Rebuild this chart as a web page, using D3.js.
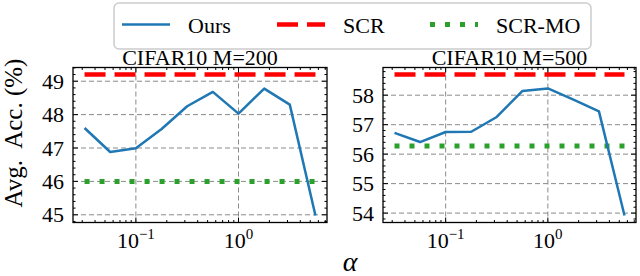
<!DOCTYPE html>
<html>
<head>
  <meta charset="UTF-8">
  <style>
    body { margin: 0; background: #fff; }
    svg { display: block; font-family: "Liberation Serif", "Times New Roman", serif; }
  </style>
</head>
<body>
<svg></svg>
<script src="https://d3js.org/d3.v7.min.js"></script>

<script>

let width = 640, height = 276;

let svg = d3.select("svg")
    .attr("width", width)
    .attr("height", height)
    .attr("viewBox", "0 0 " + width + " " + height);

// data
const alpha = [0.0316, 0.0562, 0.1, 0.178, 0.316, 0.562, 1, 1.78, 3.16, 5.62];
const ours200 = [47.6, 46.88, 46.99, 47.57, 48.25, 48.68, 48.03, 48.78, 48.3, 44.98];
const ours500 = [56.72, 56.41, 56.75, 56.76, 57.26, 58.14, 58.23, 57.85, 57.45, 53.92];
const scr = [49.2, 58.7];
const scrMo = [46.0, 56.28];
const titles = ["CIFAR10 M=200", "CIFAR10 M=500"];
const yTicks200 = [45, 46, 47, 48, 49];
const yTicks500 = [54, 55, 56, 57, 58];
const xTicks = [0.1, 1];
const legendLabels = ["Ours", "SCR", "SCR-MO"];

const blue = "#1f77b4", red = "#ff0000", green = "#2ca02c";
const plotTop = 67.5, plotBottom = 222.5;

let panels = [
  {x0: 73, x1: 327, ours: ours200, scr: scr[0], mo: scrMo[0], yTicks: yTicks200, title: titles[0]},
  {x0: 383, x1: 636, ours: ours500, scr: scr[1], mo: scrMo[1], yTicks: yTicks500, title: titles[1]}
];

panels.forEach(p => {
  let g = svg.append("g");

  // matplotlib style 5% margins
  let lx = d3.extent(alpha).map(Math.log10);
  let padX = (lx[1] - lx[0]) * 0.05;
  let x = d3.scaleLog()
      .domain([Math.pow(10, lx[0] - padX), Math.pow(10, lx[1] + padX)])
      .range([p.x0, p.x1]);

  let ey = d3.extent(p.ours.concat([p.scr, p.mo]));
  let padY = (ey[1] - ey[0]) * 0.05;
  let y = d3.scaleLinear()
      .domain([ey[0] - padY, ey[1] + padY])
      .range([plotBottom, plotTop]);

  // grid
  g.selectAll(".gx").data(xTicks).enter().append("line")
      .attr("x1", d => x(d)).attr("x2", d => x(d))
      .attr("y1", plotTop).attr("y2", plotBottom)
      .attr("stroke", "#8a8a8a").attr("stroke-width", 1)
      .attr("stroke-dasharray", "5,3");
  g.selectAll(".gy").data(p.yTicks).enter().append("line")
      .attr("x1", p.x0).attr("x2", p.x1)
      .attr("y1", d => y(d)).attr("y2", d => y(d))
      .attr("stroke", "#8a8a8a").attr("stroke-width", 1)
      .attr("stroke-dasharray", "5,3");

  // clip marks to the axes box
  let clipId = "clip" + p.x0;
  svg.append("clipPath").attr("id", clipId)
    .append("rect").attr("x", p.x0).attr("y", plotTop)
    .attr("width", p.x1 - p.x0).attr("height", plotBottom - plotTop);
  let marks = g.append("g").attr("clip-path", "url(#" + clipId + ")");

  let xs = d3.extent(alpha);
  marks.append("line")
      .attr("x1", x(xs[0])).attr("x2", x(xs[1]))
      .attr("y1", y(p.scr)).attr("y2", y(p.scr))
      .attr("stroke", red).attr("stroke-width", 4.5)
      .attr("stroke-dasharray", "21,9");
  marks.append("line")
      .attr("x1", x(xs[0])).attr("x2", x(xs[1]))
      .attr("y1", y(p.mo)).attr("y2", y(p.mo))
      .attr("stroke", green).attr("stroke-width", 5)
      .attr("stroke-dasharray", "5,10");

  let line = d3.line().x((d, i) => x(alpha[i])).y(d => y(d));
  marks.append("path")
      .datum(p.ours)
      .attr("d", line)
      .attr("fill", "none")
      .attr("stroke", blue).attr("stroke-width", 2.5)
      .attr("stroke-linejoin", "round");

  // ticks, inward on all four sides
  let dom = x.domain();
  let minorX = [];
  for (let e = -3; e <= 1; e++) {
    for (let m = 2; m <= 9; m++) {
      let v = m * Math.pow(10, e);
      if (v > dom[0] && v < dom[1]) minorX.push(v);
    }
  }
  let ticks = g.append("g").attr("stroke", "#000").attr("stroke-width", 1);
  [[xTicks, 5], [minorX, 2.5]].forEach(([vals, len]) => {
    vals.forEach(v => {
      ticks.append("line").attr("x1", x(v)).attr("x2", x(v)).attr("y1", plotBottom).attr("y2", plotBottom - len);
      ticks.append("line").attr("x1", x(v)).attr("x2", x(v)).attr("y1", plotTop).attr("y2", plotTop + len);
    });
  });
  let yd = y.domain();
  let minorY = d3.range(Math.ceil(yd[0] * 5), Math.floor(yd[1] * 5) + 1)
      .map(d => d / 5).filter(d => Math.abs(d - Math.round(d)) > 1e-6);
  [[p.yTicks, 5], [minorY, 2.5]].forEach(([vals, len]) => {
    vals.forEach(v => {
      ticks.append("line").attr("y1", y(v)).attr("y2", y(v)).attr("x1", p.x0).attr("x2", p.x0 + len);
      ticks.append("line").attr("y1", y(v)).attr("y2", y(v)).attr("x1", p.x1).attr("x2", p.x1 - len);
    });
  });

  // frame
  g.append("rect")
      .attr("x", p.x0).attr("y", plotTop)
      .attr("width", p.x1 - p.x0).attr("height", plotBottom - plotTop)
      .attr("fill", "none").attr("stroke", "#000").attr("stroke-width", 1.3);

  // tick labels
  g.selectAll(".yl").data(p.yTicks).enter().append("text")
      .attr("x", p.x0 - 9).attr("y", d => y(d) + 7.5)
      .attr("text-anchor", "end").attr("font-size", 22)
      .text(d => d);

  xTicks.forEach(v => {
    let t = g.append("text")
        .attr("x", x(v)).attr("y", 248)
        .attr("text-anchor", "middle").attr("font-size", 22);
    t.append("tspan").text("10");
    t.append("tspan").attr("dy", -9).attr("font-size", 15).text(Math.round(Math.log10(v)) === 0 ? "0" : "\u2212" + Math.abs(Math.round(Math.log10(v))));
  });

  g.append("text")
      .attr("x", (p.x0 + p.x1) / 2).attr("y", 65)
      .attr("text-anchor", "middle").attr("font-size", 22)
      .text(p.title);
});

// axis labels
svg.append("text")
    .attr("transform", "translate(22," + ((plotTop + plotBottom) / 2 - 12) + ") rotate(-90)")
    .attr("text-anchor", "middle").attr("font-size", 25)
    .text("Avg.  Acc. (%)")
    .style("white-space", "pre");

svg.append("text")
    .attr("x", 350).attr("y", 271)
    .attr("text-anchor", "middle").attr("font-size", 28)
    .attr("font-style", "italic")
    .text("\u03b1");

// legend
let leg = svg.append("g");
leg.append("rect")
    .attr("x", 114).attr("y", 3).attr("width", 477).attr("height", 46)
    .attr("rx", 5).attr("fill", "#fff")
    .attr("stroke", "#cccccc").attr("stroke-width", 1.5);

let legItems = [
  {x: 122, color: blue, w: 2.5, dash: null},
  {x: 277, color: red, w: 4.5, dash: "21,9"},
  {x: 430, color: green, w: 5, dash: "5,10"}
];
legItems.forEach((d, i) => {
  leg.append("line")
      .attr("x1", d.x).attr("x2", d.x + 48)
      .attr("y1", 24.5).attr("y2", 24.5)
      .attr("stroke", d.color).attr("stroke-width", d.w)
      .attr("stroke-dasharray", d.dash);
  leg.append("text")
      .attr("x", d.x + 66).attr("y", 33)
      .attr("font-size", 22)
      .text(legendLabels[i]);
});

</script>

</body>
</html>
